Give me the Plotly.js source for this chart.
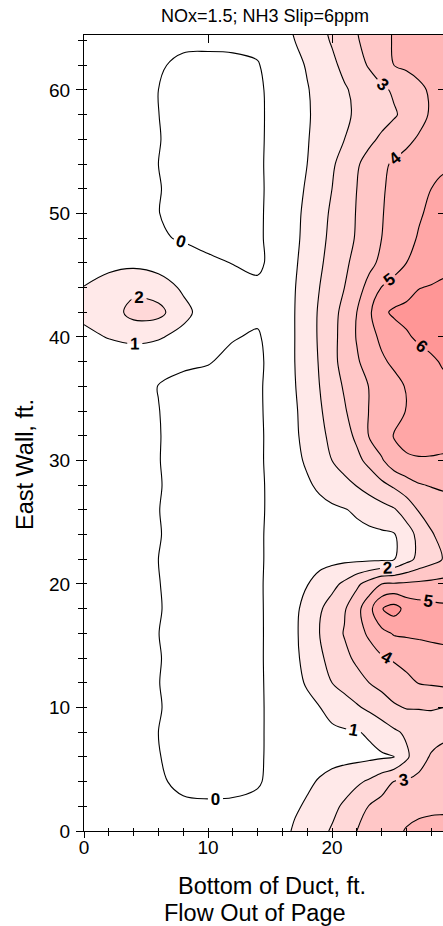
<!DOCTYPE html>
<html><head><meta charset="utf-8">
<script src="https://cdn.plot.ly/plotly-3.0.1.min.js"></script>
<style>html,body{margin:0;padding:0;background:#fff;}#chart{width:443px;height:926px;}</style>
</head><body><div id="chart"></div>
<script>
// Bottom of duct positions (ft) of the grid columns
const xFeet = [0,2,4,6,8,10,12,14,16,17,18,19,20,21,22,23,24,25,26,27,28,29,30];
// East wall positions (ft) of the grid rows
const yFeet = [0,2,4,6,8,10,12,14,16,18,20,22,24,26,28,30,32,34,36,38,40,42,44,46,48,50,52,54,56,58,60,62,64,66];
const slipRows = [
 [0.3,0.3,0.3,0.25,0.25,0.25,0.25,0.25, 0.71,1.13,1.44,1.75,2.09,2.55,3.0,3.28,3.56,3.83,4.05,4.15,4.25,4.3,4.35],
 [0.3,0.3,0.3,0.2,0.15,0.12,0.12,0.2, 0.64,0.87,1.13,1.45,1.77,2.14,2.62,3.04,3.3,3.6,3.75,3.85,3.85,3.85,3.85],
 [0.3,0.3,0.3,0.12,-0.2,-0.28,-0.22,-0.08, 0.37,0.6,0.84,1.08,1.33,1.58,1.83,2.14,2.59,3.02,3.1,3.2,3.3,3.4,3.4],
 [0.3,0.3,0.3,0.04,-0.35,-0.4,-0.35,-0.15, 0.45,0.55,0.6,0.65,0.7,0.72,0.75,0.8,0.88,0.98,1.82,2.67,3.08,3.2,3.2],
 [0.3,0.3,0.3,0.0,-0.35,-0.4,-0.35,-0.14, 0.4,0.6,0.7,0.78,0.85,0.9,0.95,1.11,1.48,1.85,2.15,2.4,2.65,2.85,2.9],
 [0.3,0.3,0.3,0.06,-0.35,-0.4,-0.35,-0.12, 0.34,0.55,0.77,0.98,1.27,1.58,1.88,2.2,2.53,2.87,3.05,3.05,3.05,3.0,3.0],
 [0.3,0.3,0.3,0.02,-0.35,-0.4,-0.35,-0.15, 0.46,0.76,1.09,1.55,2.0,2.33,2.67,3.0,3.27,3.54,3.81,4.03,4.11,4.2,4.25],
 [0.3,0.3,0.3,0.05,-0.35,-0.4,-0.35,-0.15, 0.5,0.83,1.28,1.83,2.32,2.77,3.18,3.54,3.89,4.1,4.25,4.4,4.55,4.7,4.75],
 [0.3,0.3,0.3,0.01,-0.35,-0.4,-0.35,-0.16, 0.52,0.86,1.38,2.0,2.53,3.06,3.61,4.17,4.72,5.08,5.15,5.2,5.25,5.25,5.25],
 [0.3,0.3,0.3,0.06,-0.35,-0.4,-0.35,-0.15, 0.5,0.83,1.29,1.88,2.4,2.9,3.67,4.67,5.95,6.4,5.7,5.45,5.3,5.2,5.2],
 [0.3,0.3,0.3,0.03,-0.35,-0.4,-0.35,-0.12, 0.42,0.69,0.97,1.35,1.73,2.19,2.81,3.41,4.0,4.1,4.15,4.2,4.25,4.3,4.3],
 [0.3,0.3,0.3,0.0,-0.35,-0.4,-0.35,-0.15, 0.45,0.6,0.65,0.7,0.75,0.8,0.8,0.82,0.85,0.95,1.65,2.25,2.65,3.05,3.1],
 [0.3,0.3,0.3,0.05,-0.35,-0.4,-0.35,-0.15, 0.45,0.55,0.6,0.62,0.65,0.7,0.75,0.8,0.85,0.93,1.55,2.27,2.93,3.25,3.3],
 [0.3,0.3,0.3,0.02,-0.35,-0.4,-0.35,-0.18, 0.45,0.55,0.65,0.75,0.85,0.95,1.13,1.38,1.64,1.9,2.43,3.07,3.3,3.6,3.65],
 [0.3,0.3,0.3,0.06,-0.35,-0.4,-0.35,-0.15, 0.38,0.63,0.88,1.15,1.44,1.74,2.04,2.41,2.78,3.15,3.54,3.92,4.06,4.13,4.15],
 [0.3,0.3,0.3,0.03,-0.35,-0.4,-0.35,-0.15, 0.47,0.78,1.13,1.57,2.0,2.38,2.77,3.25,3.88,4.6,4.93,4.95,4.92,4.85,4.85],
 [0.3,0.3,0.3,0.04,-0.35,-0.4,-0.35,-0.17, 0.52,0.86,1.29,1.76,2.22,2.65,3.18,4.06,4.61,5.05,5.15,5.25,5.35,5.4,5.45],
 [0.3,0.3,0.3,0.02,-0.35,-0.4,-0.35,-0.15, 0.54,0.89,1.37,1.89,2.4,2.9,3.47,4.03,4.37,4.7,5.03,5.2,5.35,5.5,5.55],
 [0.35,0.4,0.4,-0.02,-0.3,-0.3,-0.3,-0.15, 0.58,0.96,1.47,2.0,2.56,3.1,3.57,4.03,4.38,4.72,5.06,5.3,5.55,5.8,5.9],
 [0.6,0.75,0.75,0.3,0.2,0.05,-0.2,-0.2, 0.6,1.0,1.53,2.07,2.73,3.33,3.89,4.38,4.86,5.16,5.4,5.63,5.86,6.1,6.15],
 [0.9,1.02,1.1,1.1,0.7,0.3,0.05,-0.1, 0.62,1.0,1.56,2.12,2.71,3.36,4.06,4.69,5.18,5.54,5.89,6.15,6.3,6.45,6.5],
 [1.1,1.4,2.4,2.3,1.3,0.5,0.3,0.2, 0.73,1.0,1.56,2.11,2.67,3.29,4.0,4.83,5.8,6.15,6.25,6.4,6.5,6.65,6.7],
 [1.02,1.3,1.7,1.5,0.85,0.45,0.3,0.2, 0.72,0.97,1.47,2.0,2.5,3.0,3.63,4.31,5.03,5.34,5.66,5.97,6.06,6.12,6.15],
 [0.7,0.8,0.8,0.6,0.4,0.15,-0.02,-0.2, 0.54,0.89,1.37,1.89,2.27,2.82,3.29,3.76,4.2,4.6,5.0,5.27,5.53,5.8,5.85],
 [0.4,0.4,0.35,0.1,-0.08,-0.25,-0.3,-0.15, 0.5,0.83,1.25,1.75,2.22,2.65,3.09,3.55,4.0,4.37,4.74,5.07,5.33,5.6,5.65],
 [0.3,0.3,0.3,0.02,-0.35,-0.4,-0.35,-0.15, 0.48,0.81,1.19,1.67,2.14,2.59,3.05,3.5,3.95,4.28,4.59,4.91,5.16,5.4,5.45],
 [0.3,0.3,0.3,0.05,-0.35,-0.4,-0.35,-0.16, 0.45,0.76,1.09,1.55,2.0,2.5,3.0,3.45,3.91,4.21,4.47,4.74,5.0,5.15,5.2],
 [0.3,0.3,0.3,0.0,-0.35,-0.4,-0.35,-0.14, 0.43,0.71,1.0,1.43,1.87,2.37,2.89,3.36,3.82,4.12,4.31,4.51,4.7,4.9,4.9],
 [0.3,0.3,0.3,0.04,-0.35,-0.4,-0.35,-0.15, 0.41,0.68,0.95,1.29,1.64,2.0,2.4,2.8,3.16,3.48,3.81,4.1,4.35,4.6,4.6],
 [0.3,0.3,0.3,0.01,-0.35,-0.4,-0.35,-0.15, 0.39,0.66,0.92,1.22,1.53,1.84,2.13,2.38,2.64,2.9,3.26,3.7,4.11,4.4,4.5],
 [0.3,0.3,0.3,0.0,-0.33,-0.38,-0.33,-0.14, 0.41,0.68,0.95,1.26,1.58,1.9,2.21,2.52,2.82,3.13,3.47,3.8,4.13,4.35,4.45],
 [0.3,0.3,0.3,0.1,-0.2,-0.25,-0.2,-0.05, 0.49,0.77,1.07,1.44,1.81,2.22,2.65,3.09,3.55,4.0,4.15,4.3,4.45,4.55,4.6],
 [0.3,0.3,0.3,0.25,0.2,0.2,0.2,0.2, 0.73,1.0,1.36,1.71,2.08,2.5,2.92,3.32,3.72,4.07,4.2,4.3,4.4,4.5,4.55],
 [0.3,0.3,0.3,0.25,0.2,0.2,0.2,0.2, 0.84,1.18,1.54,1.89,2.28,2.68,3.07,3.4,3.73,4.03,4.15,4.25,4.35,4.45,4.5]
];
// fill colour for: below 0, 0-1, 1-2, 2-3, 3-4, 4-5, 5-6, 6-7, above 7
const bandColors = ['#ffffff','#ffffff','#ffe9e9','#ffd8d8','#ffc7c7','#ffb6b6','#ffa6a6','#ff9696','#ff8888'];
const titleText = 'NOx=1.5; NH3 Slip=6ppm';
const xTitle1 = 'Bottom of Duct, ft.';
const xTitle2 = 'Flow Out of Page';
const yTitle = 'East Wall, ft.';

const FONT = 'Liberation Sans, Arial, Helvetica, sans-serif';
const W = 443, H = 926, L = 84, R = 0, T = 35, B = 95;
const xRange = [0, 28.95], yRange = [0, 64.45];
const pw = W - L - R, ph = H - T - B;
const colorscale = bandColors.map((c, i) => [i / (bandColors.length - 1), c]);

const traces = [
  {
    type: 'contour', x: xFeet, y: yFeet, z: slipRows,
    autocontour: false,
    contours: {start: 0, end: 7, size: 1, coloring: 'fill', showlabels: true,
      labelfont: {family: FONT, size: 17, color: '#000', weight: 'bold'}},
    colorscale: colorscale, showscale: false,
    line: {color: '#000', width: 1.1, smoothing: 1},
    hoverinfo: 'skip'
  },
  {type: 'scatter', x: [], y: [], xaxis: 'x2', yaxis: 'y2', showlegend: false, hoverinfo: 'skip'},
  {type: 'scatter', x: [], y: [], xaxis: 'x3', yaxis: 'y3', showlegend: false, hoverinfo: 'skip'}
];

const base = {showgrid: false, zeroline: false, fixedrange: true};
const layout = {
  width: W, height: H,
  margin: {l: L, r: R, t: T, b: B, pad: 0},
  paper_bgcolor: '#fff', plot_bgcolor: '#fff',
  showlegend: false,
  font: {family: FONT, color: '#000'},
  title: {text: titleText, font: {family: FONT, size: 18, color: '#000'},
    xref: 'container', x: 265 / W, xanchor: 'center',
    yref: 'container', y: 1 - 16 / H, yanchor: 'middle'},
  xaxis: Object.assign({}, base, {range: xRange, anchor: 'y', showline: true, linecolor: '#000', linewidth: 1,
    ticks: 'outside', ticklen: 6, tickcolor: '#000', tick0: 0, dtick: 10, ticklabelstandoff: -7,
    minor: {dtick: 2, ticks: 'outside', ticklen: 4, tickcolor: '#000'},
    tickfont: {family: FONT, size: 19, color: '#000'}}),
  xaxis2: Object.assign({}, base, {range: xRange, overlaying: 'x', anchor: 'y2', side: 'bottom', showline: false,
    ticks: 'inside', ticklen: 3, tickcolor: '#000', tick0: 0, dtick: 10,
    minor: {dtick: 2, ticks: 'inside', ticklen: 3, tickcolor: '#000'}, showticklabels: false}),
  xaxis3: Object.assign({}, base, {range: xRange, overlaying: 'x', anchor: 'y3', side: 'top', showline: true, linecolor: '#000', linewidth: 1,
    ticks: 'inside', ticklen: 8, tickcolor: '#000', tick0: 0, dtick: 10, showticklabels: false}),
  yaxis: Object.assign({}, base, {range: yRange, anchor: 'x', showline: true, linecolor: '#000', linewidth: 1,
    ticks: 'outside', ticklen: 7, tickcolor: '#000', tick0: 0, dtick: 10, ticklabelstandoff: 2,
    minor: {dtick: 2, ticks: 'outside', ticklen: 5, tickcolor: '#000'},
    tickfont: {family: FONT, size: 19, color: '#000'}}),
  yaxis2: Object.assign({}, base, {range: yRange, overlaying: 'y', anchor: 'x2', side: 'left', showline: false,
    ticks: 'inside', ticklen: 3, tickcolor: '#000', tick0: 0, dtick: 10,
    minor: {dtick: 2, ticks: 'inside', ticklen: 3, tickcolor: '#000'}, showticklabels: false}),
  yaxis3: Object.assign({}, base, {range: yRange, overlaying: 'y', anchor: 'x3', side: 'right', showline: false,
    ticks: 'inside', ticklen: 5, tickcolor: '#000', tick0: 0, dtick: 10, showticklabels: false}),
  annotations: [
    {text: xTitle1, xref: 'paper', yref: 'paper', x: (272 - L) / pw, y: (H - B - 886) / ph,
      xanchor: 'center', yanchor: 'middle', showarrow: false, font: {family: FONT, size: 23.5, color: '#000'}},
    {text: xTitle2, xref: 'paper', yref: 'paper', x: (255 - L) / pw, y: (H - B - 913) / ph,
      xanchor: 'center', yanchor: 'middle', showarrow: false, font: {family: FONT, size: 23.5, color: '#000'}},
    {text: yTitle, xref: 'paper', yref: 'paper', x: (25 - L) / pw, y: (H - B - 465) / ph, textangle: -90,
      xanchor: 'center', yanchor: 'middle', showarrow: false, font: {family: FONT, size: 23.5, color: '#000'}}
  ]
};

Plotly.newPlot('chart', traces, layout, {staticPlot: true, displayModeBar: false});
</script>
</body></html>
